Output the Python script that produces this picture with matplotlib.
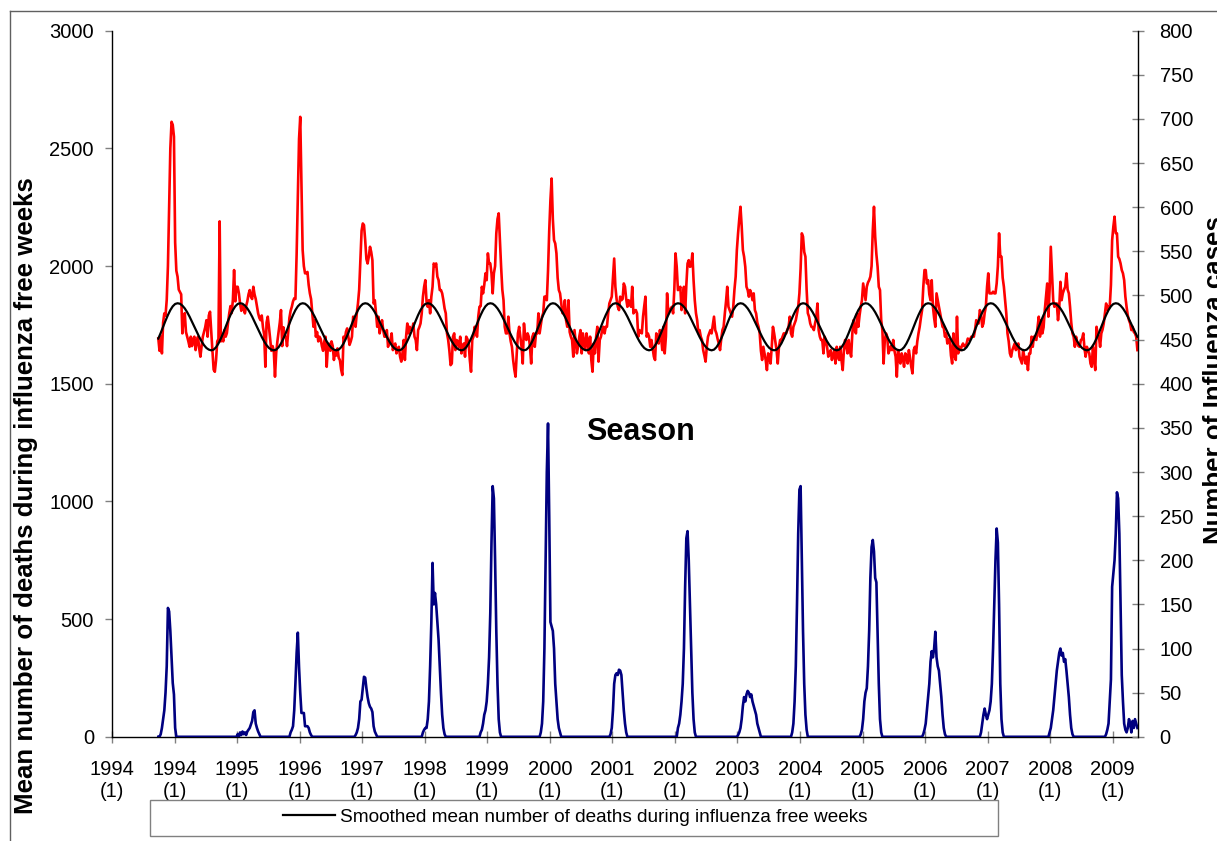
import numpy as np
import matplotlib
matplotlib.use("Agg")
import matplotlib.pyplot as plt
from matplotlib.patches import Rectangle
from matplotlib.lines import Line2D

plt.rcParams['font.family'] = ['Liberation Sans', 'DejaVu Sans']

# category axis: one slot per week, a labelled tick every 52 weeks
n_weeks = 853
first_week = 38
year_labels = ['1994', '1994', '1995', '1996', '1997', '1998', '1999', '2000', '2001',
               '2002', '2003', '2004', '2005', '2006', '2007', '2008', '2009']

# weekly number of deaths (left axis), week 38 onwards
deaths = [
    1693, 1640, 1700, 1629, 1760, 1799, 1790, 1856, 2000, 2250, 2500, 2613, 2600, 2550,
    # 1994
    2100, 1980, 1955, 1900, 1890, 1880, 1714, 1780, 1800, 1720, 1700, 1680, 1657, 1700, 1660, 1690, 1700, 1643,
    1680, 1700, 1650, 1615, 1660, 1700, 1720, 1740, 1770, 1700, 1790, 1806, 1720, 1640, 1560, 1551, 1600, 1680,
    1690, 2190, 1680, 1700, 1680, 1728, 1700, 1715, 1760, 1800, 1830, 1800, 1856, 1983, 1850, 1912,
    # 1995
    1912, 1884, 1840, 1810, 1830, 1820, 1799, 1830, 1850, 1880, 1898, 1870, 1860, 1912, 1880, 1860, 1830, 1799,
    1780, 1770, 1790, 1740, 1710, 1572, 1760, 1785, 1740, 1690, 1640, 1660, 1640, 1530, 1630, 1680, 1720, 1760,
    1813, 1660, 1740, 1700, 1700, 1660, 1720, 1780, 1810, 1827, 1850, 1863, 1860, 2050, 2300, 2540,
    # 1996
    2634, 2350, 2068, 2000, 1969, 1970, 1975, 1920, 1884, 1860, 1800, 1742, 1770, 1700, 1720, 1680, 1700, 1690,
    1660, 1640, 1680, 1700, 1572, 1660, 1670, 1640, 1680, 1660, 1601, 1640, 1620, 1650, 1610, 1600, 1560, 1537,
    1700, 1686, 1720, 1735, 1700, 1665, 1680, 1700, 1785, 1760, 1742, 1799, 1841, 1900, 2025, 2150,
    # 1997
    2181, 2174, 2110, 2030, 2011, 2040, 2082, 2060, 2025, 1841, 1855, 1800, 1742, 1785, 1714, 1740, 1770, 1728,
    1700, 1700, 1728, 1657, 1680, 1686, 1714, 1643, 1660, 1671, 1629, 1650, 1657, 1615, 1594, 1630, 1686, 1601,
    1700, 1756, 1714, 1742, 1730, 1728, 1756, 1700, 1686, 1643, 1728, 1740, 1756, 1799, 1870, 1912,
    # 1998
    1940, 1850, 1827, 1855, 1799, 1870, 1912, 2011, 2000, 2011, 1955, 1940, 1898, 1898, 1884, 1855, 1820, 1799,
    1714, 1686, 1640, 1579, 1586, 1700, 1714, 1643, 1686, 1680, 1657, 1700, 1629, 1660, 1671, 1615, 1700, 1690,
    1671, 1600, 1551, 1686, 1700, 1742, 1714, 1700, 1785, 1827, 1830, 1912, 1884, 1920, 1969, 1940,
    # 1999
    2054, 2011, 2011, 1969, 1884, 1969, 2000, 2139, 2200, 2224, 2110, 1997, 1900, 1855, 1742, 1714, 1714, 1785,
    1714, 1680, 1657, 1601, 1560, 1530, 1629, 1714, 1742, 1700, 1657, 1586, 1756, 1700, 1686, 1714, 1700, 1657,
    1586, 1700, 1714, 1657, 1714, 1714, 1799, 1714, 1750, 1785, 1800, 1870, 1870, 1855, 1980, 2150,
    # 2000
    2280, 2372, 2200, 2110, 2096, 2054, 1950, 1898, 1884, 1841, 1800, 1799, 1855, 1770, 1742, 1855, 1720, 1700,
    1686, 1615, 1728, 1680, 1629, 1657, 1700, 1728, 1629, 1714, 1680, 1643, 1714, 1680, 1629, 1700, 1600, 1551,
    1671, 1629, 1700, 1742, 1594, 1686, 1700, 1728, 1742, 1714, 1742, 1742, 1799, 1841, 1855, 1870,
    # 2001
    1950, 2032, 1912, 1860, 1827, 1813, 1870, 1855, 1860, 1926, 1912, 1860, 1827, 1855, 1840, 1827, 1912, 1799,
    1810, 1813, 1799, 1700, 1728, 1720, 1714, 1785, 1830, 1870, 1700, 1714, 1700, 1657, 1686, 1650, 1615, 1601,
    1714, 1690, 1671, 1728, 1700, 1643, 1742, 1629, 1700, 1884, 1799, 1813, 1820, 1827, 1799, 1900,
    # 2002
    2054, 1997, 1898, 1900, 1912, 1813, 1870, 1912, 1799, 1920, 2011, 2025, 1997, 2000, 2054, 1940, 1855, 1800,
    1770, 1714, 1728, 1700, 1686, 1643, 1620, 1594, 1657, 1700, 1714, 1728, 1714, 1750, 1785, 1728, 1714, 1690,
    1671, 1643, 1690, 1728, 1742, 1799, 1850, 1912, 1827, 1813, 1800, 1785, 1827, 1900, 1955, 2068,
    # 2003
    2139, 2200, 2252, 2170, 2068, 2040, 1997, 1912, 1898, 1870, 1898, 1884, 1855, 1884, 1813, 1799, 1760, 1742,
    1714, 1640, 1601, 1657, 1629, 1600, 1558, 1629, 1620, 1586, 1657, 1742, 1714, 1680, 1643, 1586, 1657, 1686,
    1686, 1700, 1714, 1714, 1714, 1730, 1742, 1785, 1714, 1700, 1742, 1756, 1770, 1799, 1827, 1884,
    # 2004
    1990, 2139, 2125, 2060, 2040, 1900, 1800, 1785, 1756, 1742, 1740, 1728, 1756, 1780, 1841, 1728, 1700, 1686,
    1686, 1629, 1700, 1680, 1657, 1615, 1630, 1643, 1601, 1620, 1643, 1586, 1657, 1620, 1601, 1657, 1600, 1558,
    1643, 1686, 1660, 1629, 1686, 1640, 1615, 1714, 1770, 1730, 1714, 1799, 1742, 1790, 1827, 1855,
    # 2005
    1926, 1890, 1855, 1912, 1930, 1940, 1955, 2000, 2150, 2252, 2125, 2050, 1997, 1912, 1898, 1770, 1728, 1586,
    1686, 1714, 1700, 1629, 1643, 1660, 1643, 1686, 1640, 1615, 1530, 1643, 1600, 1586, 1629, 1610, 1572, 1629,
    1620, 1586, 1643, 1610, 1572, 1544, 1643, 1657, 1629, 1680, 1714, 1742, 1780, 1813, 1912, 1983,
    # 2006
    1983, 1926, 1940, 1880, 1855, 1940, 1827, 1780, 1742, 1884, 1855, 1827, 1800, 1770, 1742, 1740, 1700, 1714,
    1671, 1690, 1686, 1620, 1586, 1714, 1620, 1601, 1785, 1629, 1657, 1643, 1660, 1671, 1660, 1657, 1671, 1692,
    1686, 1690, 1700, 1700, 1700, 1728, 1770, 1756, 1756, 1813, 1800, 1742, 1756, 1800, 1827, 1912,
    # 2007
    1969, 1884, 1884, 1884, 1891, 1884, 1884, 1926, 2000, 2139, 2040, 2040, 1950, 1912, 1855, 1799, 1714, 1680,
    1629, 1615, 1643, 1657, 1671, 1643, 1660, 1671, 1615, 1600, 1586, 1643, 1615, 1586, 1615, 1558, 1629, 1629,
    1700, 1657, 1700, 1690, 1686, 1740, 1785, 1700, 1770, 1714, 1740, 1813, 1870, 1926, 1785, 1900,
    # 2008
    2082, 1969, 1855, 1827, 1840, 1841, 1770, 1820, 1933, 1855, 1884, 1900, 1912, 1969, 1900, 1884, 1827, 1760,
    1714, 1700, 1657, 1700, 1671, 1660, 1657, 1686, 1690, 1714, 1650, 1615, 1657, 1640, 1629, 1586, 1572, 1657,
    1600, 1558, 1742, 1714, 1700, 1657, 1714, 1730, 1756, 1799, 1841, 1813, 1827, 1827, 1920, 2110,
    # 2009
    2167, 2210, 2140, 2139, 2040, 2030, 2011, 1983, 1969, 1940, 1870, 1827, 1790, 1770, 1756, 1728, 1742, 1720,
    1714, 1700, 1643,
]

# one cycle of the smoothed baseline, every 2 weeks starting at its yearly peak
smooth_cycle = [1842, 1840, 1832, 1820, 1804, 1785, 1764, 1742, 1720, 1699, 1680, 1664, 1652,
                1645, 1642, 1645, 1655, 1671, 1692, 1716, 1742, 1768, 1792, 1813, 1829, 1839]
smooth_peak_week = 54

# influenza cases (right axis): first week of each season and its weekly counts
flu_start = [40, 104, 148, 202, 258, 306, 356, 414, 470, 520, 565, 622, 674, 722, 779, 826]
flu_cases = [
    [3, 10, 20, 30, 50, 80, 146, 142, 120, 90, 61, 48, 10],
    [3, 0, 5, 2, 6, 3, 5, 2, 6, 8, 10, 14, 18, 28, 30, 15, 10, 6, 3],
    [5, 8, 12, 30, 61, 95, 118, 79, 50, 27, 27, 27, 12, 12, 12, 10, 5, 2],
    [2, 5, 10, 20, 40, 42, 55, 68, 67, 55, 45, 38, 34, 32, 28, 12, 6, 3],
    [5, 8, 10, 10, 20, 40, 80, 130, 197, 150, 163, 150, 130, 110, 80, 50, 25, 10, 3],
    [5, 8, 15, 25, 30, 40, 60, 90, 140, 220, 284, 270, 200, 120, 60, 20, 5],
    [5, 15, 40, 100, 200, 300, 355, 250, 130, 125, 120, 100, 60, 40, 20, 10, 5],
    [3, 10, 30, 60, 70, 72, 70, 76, 75, 70, 50, 30, 15, 5],
    [10, 15, 25, 40, 60, 100, 170, 225, 233, 200, 150, 100, 50, 20, 5],
    [2, 5, 10, 20, 35, 45, 40, 48, 52, 50, 45, 48, 40, 35, 30, 25, 15, 10, 5],
    [5, 15, 40, 80, 150, 230, 280, 284, 200, 120, 60, 25, 8],
    [3, 8, 20, 40, 50, 55, 80, 120, 180, 215, 223, 210, 180, 175, 120, 60, 20, 5],
    [3, 8, 15, 30, 45, 60, 85, 97, 90, 100, 119, 90, 80, 75, 60, 45, 25, 10, 3],
    [5, 15, 25, 32, 25, 20, 25, 30, 40, 60, 100, 150, 200, 236, 220, 150, 60, 20, 5],
    [5, 10, 20, 30, 45, 60, 75, 85, 95, 100, 92, 95, 85, 88, 75, 60, 45, 25, 10, 3],
    [3, 8, 15, 40, 65, 170, 185, 200, 230, 277, 270, 230, 150, 70, 40, 15, 8, 5, 10, 20, 15, 5, 18, 10, 20, 15, 10],
]

W, H = 1217, 841
fig = plt.figure(figsize=(W / 100, H / 100), dpi=100)
ax = fig.add_axes([112 / W, 1 - 736.8 / H, 1026 / W, 706.1 / H])
ax2 = ax.twinx()

weeks = np.arange(first_week, first_week + len(deaths))
x = weeks + 0.5

# smoothed line: the read cycle laid over every season
sm_weeks = np.arange(first_week, first_week + len(deaths) + 1, 2)
sm_vals = [smooth_cycle[((w - smooth_peak_week) // 2) % len(smooth_cycle)] for w in sm_weeks]

cases = np.zeros(len(deaths))
for start, vals in zip(flu_start, flu_cases):
    i = start - first_week
    cases[i:i + len(vals)] = vals

ax.plot(x, deaths, color='#ff0000', lw=1.9, zorder=2)
ax.plot(sm_weeks + 0.5, sm_vals, color='black', lw=1.6, zorder=3)
ax2.plot(x, cases, color='#000080', lw=1.9)

ax.set_xlim(0, n_weeks)
ax.set_ylim(0, 3000)
ax.set_yticks(np.arange(0, 3001, 500))
ax2.set_ylim(0, 800)
ax2.set_yticks(np.arange(0, 801, 50))

ax.set_xticks(np.arange(0, 52 * len(year_labels), 52))
ax.set_xticklabels([f'{y}\n(1)' for y in year_labels], linespacing=1.25)

ax.tick_params(axis='y', direction='out', length=5, width=1, color='#808080',
               labelsize=14.5, pad=8)
ax.tick_params(axis='x', direction='inout', length=9, width=1, color='#808080',
               labelsize=14.5, pad=12)
ax2.tick_params(axis='y', direction='inout', length=9, width=1, color='#808080',
                labelsize=14.5, pad=11)

for a in (ax, ax2):
    a.spines['top'].set_visible(False)
    for s in a.spines.values():
        s.set_color('black')
        s.set_linewidth(1)
ax2.spines['left'].set_visible(False)
ax2.spines['bottom'].set_visible(False)
ax.spines['right'].set_visible(False)

fig.text(14 / W, 1 - 496 / H, 'Mean number of deaths during influenza free weeks',
         rotation=90, ha='left', va='center', fontsize=18.6, fontweight='bold')
fig.text(1203 / W, 1 - 380 / H, 'Number of Influenza cases',
         rotation=90, ha='left', va='center', fontsize=18.6, fontweight='bold')
fig.text(640 / W, 1 - 432 / H, 'Season', ha='center', va='center',
         fontsize=22, fontweight='bold')

# legend box spans most of the bottom, entry centred in it
fig.add_artist(Rectangle((150 / W, 1 - 836 / H), 848 / W, 36 / H, transform=fig.transFigure,
                         facecolor='white', edgecolor='#808080', lw=1, zorder=5))
handle = Line2D([], [], color='black', lw=1.6)
leg = fig.legend([handle], ['Smoothed mean number of deaths during influenza free weeks'],
                 loc='center left', bbox_to_anchor=(283 / W, 1 - 817 / H), frameon=False,
                 fontsize=13.7, handlelength=2.75, handletextpad=0.25,
                 borderpad=0, borderaxespad=0)
leg.set_zorder(6)

# outer chart frame
fig.add_artist(Line2D([10 / W, 10 / W], [0, 1 - 11 / H], color='#606060', lw=1))
fig.add_artist(Line2D([10 / W, 1], [1 - 11 / H, 1 - 11 / H], color='#606060', lw=1))

fig.savefig('out.png', dpi=100)
